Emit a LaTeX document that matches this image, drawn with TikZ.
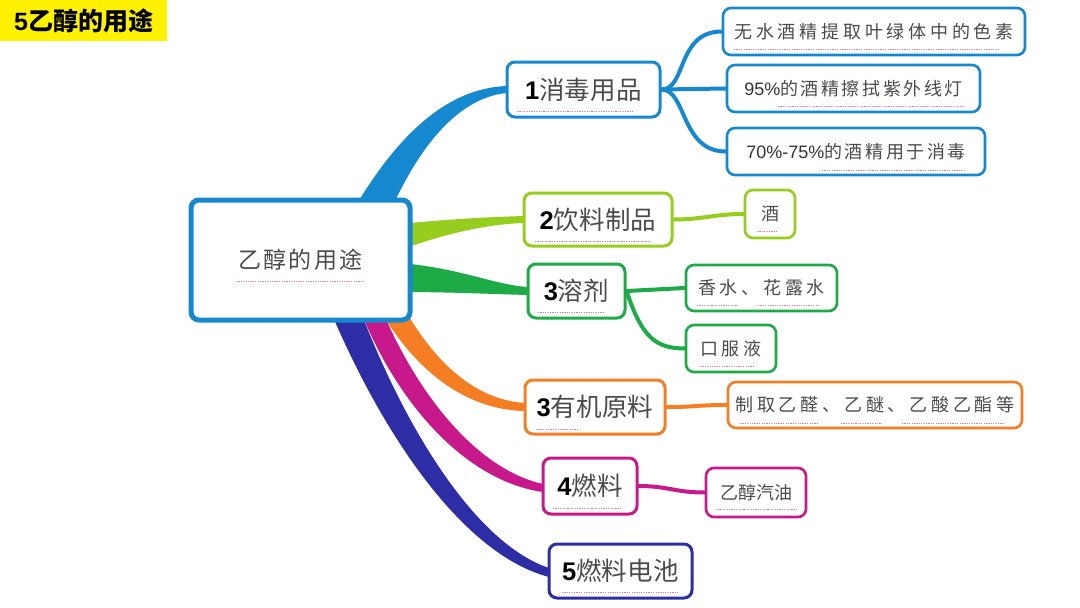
\documentclass[tikz,border=0pt]{standalone}
\usepackage{fontspec}
\setmainfont{Liberation Sans}
\newfontfamily\cjk{Noto Sans CJK SC}
\newfontfamily\cjka[LetterSpace=1]{Noto Sans CJK SC}
\newfontfamily\cjkb[LetterSpace=9]{Noto Sans CJK SC}
\newfontfamily\cjkc[LetterSpace=21]{Noto Sans CJK SC}
\newfontfamily\cjkd[LetterSpace=14]{Noto Sans CJK SC}
\definecolor{cblue}{RGB}{22,136,208}
\definecolor{clgreen}{RGB}{150,205,30}
\definecolor{cgreen}{RGB}{30,170,70}
\definecolor{corange}{RGB}{245,125,35}
\definecolor{cmag}{RGB}{200,25,140}
\definecolor{cdblue}{RGB}{45,45,165}
\definecolor{ctext}{RGB}{75,75,75}
\definecolor{cspell}{RGB}{238,120,150}
\begin{document}
\begin{tikzpicture}[x=1pt,y=-1pt,
  box/.style={draw, rounded corners=8pt, line width=3pt, fill=white, inner sep=0pt, align=center, text=ctext},
  mainbox/.style={box, font=\fontsize{25.5}{30}\selectfont},
  childbox/.style={box, line width=2.6pt, font=\fontsize{18}{22}\selectfont},
  sub/.style={line width=4pt, line cap=round},
  spell/.style={draw=cspell, line width=0.9pt, dash pattern=on 1.2pt off 1.2pt}]
\useasboundingbox (0,0) rectangle (1080,608);
\fill[white] (0,0) rectangle (1080,608);

% title
\node[fill=yellow, anchor=north west, minimum width=167pt, minimum height=41pt, inner sep=0pt,
  font=\fontsize{25}{29}\selectfont] (title) at (0,0) {\bfseries 5{\cjk 乙醇的用途}};

% main branches (tapered)
\fill[cblue] (352,212) .. controls (400,130) and (450,88) .. (507,86) -- (507,93) .. controls (462,97) and (422,140) .. (390,212) -- cycle;
\fill[clgreen] (400,224) .. controls (450,219) and (490,217) .. (524,216) -- (524,223) .. controls (490,224) and (450,232) .. (400,250) -- cycle;
\fill[cgreen] (400,263) .. controls (460,268) and (495,285) .. (528,287) -- (528,295) .. controls (490,294) and (450,292) .. (400,292) -- cycle;
\fill[corange] (405,310) .. controls (440,370) and (480,400) .. (525,403) -- (525,411) .. controls (465,410) and (415,370) .. (380,310) -- cycle;
\fill[cmag] (382,310) .. controls (420,400) and (480,470) .. (543,484) -- (543,492) .. controls (470,482) and (400,410) .. (360,310) -- cycle;
\fill[cdblue] (360,310) .. controls (410,440) and (480,545) .. (549,568) -- (549,577) .. controls (465,555) and (385,440) .. (330,310) -- cycle;

% root
\node[box, draw=cblue, line width=5pt, minimum width=219pt, minimum height=120pt,
  font=\fontsize{23}{27}\selectfont] (root) at (300.5,260) {\cjkb 乙醇的用途};

% main nodes
\node[mainbox, draw=cblue, minimum width=153pt, minimum height=55pt] (n1) at (583.5,89.5) {{\color{black}\bfseries 1}\cjka 消毒用品};
\node[mainbox, draw=clgreen, minimum width=148pt, minimum height=53pt] (n2) at (598,219.5) {{\color{black}\bfseries 2}\cjka 饮料制品};
\node[mainbox, draw=cgreen, minimum width=97pt, minimum height=54pt] (n3) at (576.5,291) {{\color{black}\bfseries 3}\cjka 溶剂};
\node[mainbox, draw=corange, minimum width=140pt, minimum height=54pt] (n4) at (595,407) {{\color{black}\bfseries 3}\cjka 有机原料};
\node[mainbox, draw=cmag, minimum width=94pt, minimum height=56pt] (n5) at (590,486) {{\color{black}\bfseries 4}\cjka 燃料};
\node[mainbox, draw=cdblue, minimum width=143pt, minimum height=54pt] (n6) at (620.5,571) {{\color{black}\bfseries 5}\cjka 燃料电池};

% children
\node[childbox, draw=cblue, minimum width=302pt, minimum height=47pt] (c11) at (874,31.5) {\cjkc 无水酒精提取叶绿体中的色素};
\node[childbox, draw=cblue, minimum width=253pt, minimum height=47pt] (c12) at (853.5,88.5) {{\color{black!80}95\%}{\cjkd 的酒精擦拭紫外线灯}};
\node[childbox, draw=cblue, minimum width=258pt, minimum height=47pt] (c13) at (856,151.5) {{\color{black!80}70\%-75\%}{\cjkd 的酒精用于消毒}};
\node[childbox, draw=clgreen, minimum width=50pt, minimum height=48pt] (c21) at (770,214) {\cjk 酒};
\node[childbox, draw=cgreen, minimum width=151pt, minimum height=46pt] (c31) at (761.5,288) {\cjkc 香水、花露水};
\node[childbox, draw=cgreen, minimum width=90pt, minimum height=47pt] (c32) at (731,348.5) {\cjkc 口服液};
\node[childbox, draw=corange, minimum width=294pt, minimum height=46pt] (c41) at (875,405) {\cjkc 制取乙醛、乙醚、乙酸乙酯等};
\node[childbox, draw=cmag, minimum width=100pt, minimum height=49pt] (c51) at (756,492.5) {\cjk 乙醇汽油};

% sub branches
\draw[sub, cblue] (n1.east) -- (c12.west);
\draw[sub, cblue] (n1.east) .. controls +(25,0) and +(-45,0) .. (c11.west);
\draw[sub, cblue] (n1.east) .. controls +(25,0) and +(-45,0) .. (c13.west);
\draw[sub, clgreen] (n2.east) .. controls +(30,0) and +(-30,0) .. (c21.west);
\draw[sub, cgreen] (n3.east) -- (c31.west);
\draw[sub, cgreen] (n3.east) .. controls +(15,45) and +(-30,0) .. (c32.west);
\draw[sub, corange] (n4.east) .. controls +(30,0) and +(-30,0) .. (c41.west);
\draw[sub, cmag] (n5.east) .. controls +(30,0) and +(-30,0) .. (c51.west);

% spell-check underlines
\draw[spell] (236,281) -- (364,281);
\draw[spell] (517,111) -- (634,111);
\draw[spell] (734,49) -- (1000,49);
\draw[spell] (778,106) -- (964,106);
\draw[spell] (822,170) -- (965,170);
\draw[spell] (535,241) -- (652,241);
\draw[spell] (757,231) -- (777,231);
\draw[spell] (538,312) -- (603,312);
\draw[spell] (697,305) -- (737,305);
\draw[spell] (758,305) -- (820,305);
\draw[spell] (700,366) -- (755,366);
\draw[spell] (536,429) -- (579,429);
\draw[spell] (740,423) -- (819,423);
\draw[spell] (841,423) -- (881,423);
\draw[spell] (902,423) -- (1005,423);
\draw[spell] (553,508) -- (621,508);
\draw[spell] (717,509) -- (797,509);
\draw[spell] (562,592) -- (679,592);
\end{tikzpicture}
\end{document}
